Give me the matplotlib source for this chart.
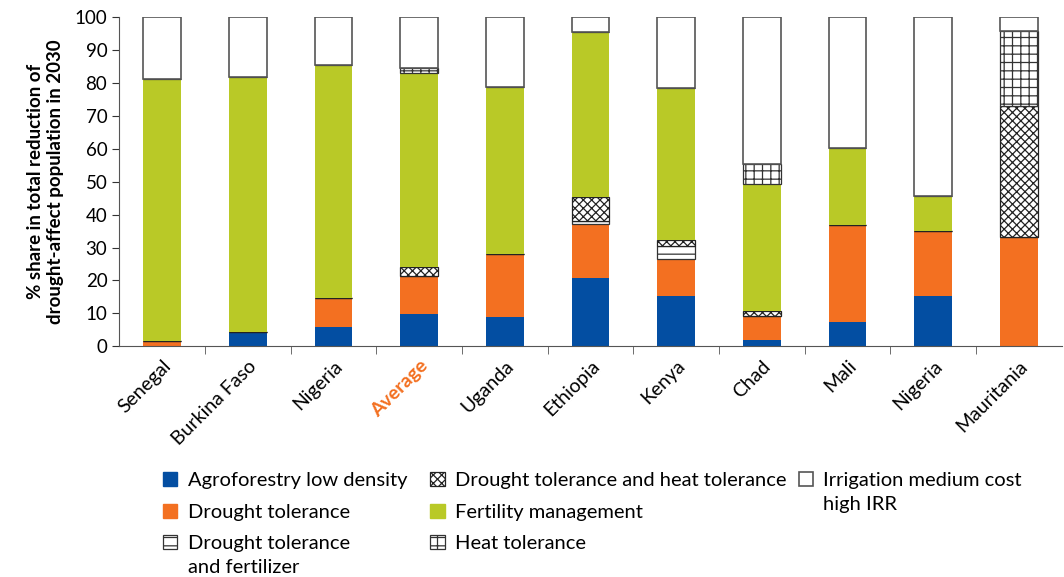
import numpy as np
import matplotlib.pyplot as plt
from matplotlib.patches import Patch

plt.rcParams['font.family'] = ['Lato', 'DejaVu Sans']
plt.rcParams['hatch.linewidth'] = 0.9

# countries in display order
countries = ['Senegal', 'Burkina Faso', 'Nigeria', 'Average', 'Uganda', 'Ethiopia',
             'Kenya', 'Chad', 'Mali', 'Nigeria', 'Mauritania']

# % share of each option
agroforestry = [0, 4.2, 5.7, 9.7, 8.8, 20.7, 15.4, 2.0, 7.3, 15.4, 0]
drought_tol = [1.7, 0, 8.9, 11.6, 19.2, 16.4, 11.0, 7.1, 29.5, 19.5, 33.1]
drought_fert = [0, 0, 0, 0, 0, 1.1, 4.1, 0, 0, 0, 0]
drought_heat = [0, 0, 0, 2.9, 0, 7.3, 1.9, 1.7, 0, 0, 39.8]
fertility = [79.4, 77.7, 71.0, 59.0, 50.8, 50.1, 46.0, 38.5, 23.6, 10.9, 0]
heat_tol = [0, 0, 0, 1.5, 0, 0, 0, 6.2, 0, 0, 22.8]
irrigation = [18.9, 18.1, 14.4, 15.3, 21.2, 4.4, 21.6, 44.5, 39.6, 54.2, 4.3]

series = [
    ('Agroforestry low density', agroforestry, dict(color='#034ea2')),
    ('Drought tolerance', drought_tol, dict(color='#f37021')),
    ('Drought tolerance', drought_fert,
     dict(facecolor='white', edgecolor='#333333', hatch='--', linewidth=0.9)),
    ('Drought tolerance and heat tolerance', drought_heat,
     dict(facecolor='white', edgecolor='#222222', hatch='xxxx', linewidth=0.9)),
    ('Fertility management', fertility, dict(color='#b9c927')),
    ('Heat tolerance', heat_tol,
     dict(facecolor='white', edgecolor='#333333', hatch='++', linewidth=0.9)),
    ('Irrigation medium cost', irrigation,
     dict(facecolor='white', edgecolor='#555555', linewidth=1.2)),
]
# second lines of the two-line legend labels: (legend column, entry, text)
second_lines = [(0, 2, 'and fertilizer'), (2, 0, 'high IRR')]

fig = plt.figure(figsize=(10.64, 5.77), dpi=100)
ax = fig.add_axes([0.112, 0.400, 0.886, 0.570])

x = np.arange(len(countries))
bottom = np.zeros(len(countries))
handles = []
for name, vals, style in series:
    vals = np.array(vals)
    ax.bar(x, vals, 0.44, bottom=bottom, **style)
    bottom += vals
    handles.append(Patch(label=name, **style))

ax.set_xlim(-0.5, len(countries) - 0.5)
ax.set_ylim(0, 100)
ax.set_yticks(np.arange(0, 101, 10))
ax.tick_params(axis='y', labelsize=13.5, length=5, color='#333333', direction='out')

ax.set_xticks(x)
ax.set_xticklabels(countries, rotation=45, ha='right', rotation_mode='anchor', fontsize=14)
ax.tick_params(axis='x', which='major', length=0, pad=8)
ax.set_xticks(np.arange(0.5, len(countries) - 0.5, 1), minor=True)
ax.tick_params(axis='x', which='minor', length=6, color='#555555')
lbl = ax.get_xticklabels()[3]
lbl.set_color('#f37021')
lbl.set_fontweight('bold')

for s in ['top', 'right']:
    ax.spines[s].set_visible(False)
for s in ['left', 'bottom']:
    ax.spines[s].set_color('#555555')

ax.set_ylabel('% share in total reduction of\ndrought-affect population in 2030',
              fontsize=13.5, fontweight='bold', labelpad=8)

# legend in three columns like the original
cols = [(handles[0:3], 0.146), (handles[3:6], 0.397), (handles[6:7], 0.743)]
legs = []
for hs, xpos in cols:
    leg = fig.legend(handles=hs, loc='upper left', bbox_to_anchor=(xpos, 0.196),
                     frameon=False, fontsize=14.5, handlelength=0.7, handleheight=0.7,
                     handletextpad=0.5, labelspacing=0.72, borderaxespad=0)
    legs.append(leg)

# hang the second line of a label under its first line
fig.canvas.draw()
inv = fig.transFigure.inverted()
for col, entry, txt in second_lines:
    t = legs[col].get_texts()[entry]
    bb = t.get_window_extent().transformed(inv)
    fig.text(bb.x0, bb.y0 - 0.012, txt, fontsize=14.5, ha='left', va='top')

fig.savefig('out.png', dpi=100)
